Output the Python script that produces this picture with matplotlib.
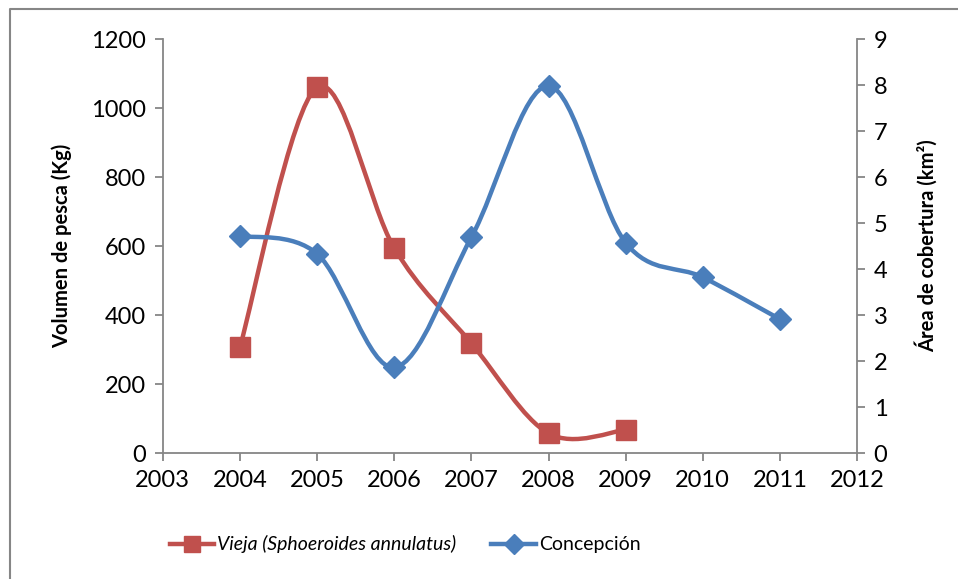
import matplotlib
matplotlib.use("Agg")
import matplotlib.pyplot as plt
from matplotlib.path import Path
from matplotlib.patches import PathPatch
from matplotlib.lines import Line2D

# data
years_vieja = [2004, 2005, 2006, 2007, 2008, 2009]
vieja_kg = [308, 1060, 594, 318, 57, 67]

years_conc = [2004, 2005, 2006, 2007, 2008, 2009, 2010, 2011]
conc_km2 = [4.72, 4.33, 1.86, 4.69, 7.98, 4.57, 3.82, 2.91]

x_ticks = list(range(2003, 2013))
left_ticks = [0, 200, 400, 600, 800, 1000, 1200]
right_ticks = list(range(0, 10))

red = "#C0504D"
blue = "#4A7EBB"
grey = "#868686"

plt.rcParams["font.family"] = ["Lato", "DejaVu Sans"]


def smooth_path(xs, ys):
    # Excel style smoothed line: Catmull-Rom turned into cubic Bezier pieces
    pts = list(zip(xs, ys))
    verts = [pts[0]]
    codes = [Path.MOVETO]
    n = len(pts)
    for i in range(n - 1):
        p0 = pts[i - 1] if i > 0 else pts[i]
        p1 = pts[i]
        p2 = pts[i + 1]
        p3 = pts[i + 2] if i + 2 < n else pts[i + 1]
        c1 = (p1[0] + (p2[0] - p0[0]) / 6, p1[1] + (p2[1] - p0[1]) / 6)
        c2 = (p2[0] - (p3[0] - p1[0]) / 6, p2[1] - (p3[1] - p1[1]) / 6)
        verts += [c1, c2, p2]
        codes += [Path.CURVE4] * 3
    return Path(verts, codes)


fig = plt.figure(figsize=(9.58, 5.79), dpi=100)
ax = fig.add_axes([0.170, 0.2176, 0.7246, 0.715])
ax2 = ax.twinx()

ax.add_patch(PathPatch(smooth_path(years_vieja, vieja_kg), facecolor="none",
                       edgecolor=red, lw=3.2, zorder=3, capstyle="round"))
ax.plot(years_vieja, vieja_kg, linestyle="none", marker="s", markersize=14,
        color=red, zorder=4)

ax2.add_patch(PathPatch(smooth_path(years_conc, conc_km2), facecolor="none",
                        edgecolor=blue, lw=3.2, zorder=3, capstyle="round"))
ax2.plot(years_conc, conc_km2, linestyle="none", marker="D", markersize=11,
         color=blue, zorder=4)

ax.set_xlim(2003, 2012)
ax.set_ylim(0, 1200)
ax2.set_ylim(0, 9)
ax.set_xticks(x_ticks)
ax.set_yticks(left_ticks)
ax2.set_yticks(right_ticks)

for a in (ax, ax2):
    for s in a.spines.values():
        s.set_color(grey)
        s.set_linewidth(1.3)
    a.spines["top"].set_visible(False)
    a.tick_params(length=6, width=1.3, color=grey, labelsize=17, pad=6)
ax.spines["right"].set_visible(False)
ax2.spines["left"].set_visible(False)
ax2.spines["bottom"].set_visible(False)

ax.set_ylabel("Volumen de pesca (Kg)", fontsize=14.5, fontweight="bold", labelpad=14)
ax2.set_ylabel("Área de cobertura (km²)", fontsize=14.5, fontweight="bold", labelpad=20)

handles = [
    Line2D([], [], color=red, lw=3.2, marker="s", markersize=12),
    Line2D([], [], color=blue, lw=3.2, marker="D", markersize=10),
]
leg = fig.legend(handles, ["Vieja (Sphoeroides annulatus)", "Concepción"],
                 loc="center", bbox_to_anchor=(0.423, 0.06), ncol=2, frameon=False,
                 fontsize=14, handlelength=2.3, handletextpad=0.15,
                 columnspacing=1.8)
leg.get_texts()[0].set_fontstyle("italic")

# only the left and top edges of the chart frame are inside the picture
fig.add_artist(Line2D([10 / 958, 10 / 958, 1], [0, 1 - 9 / 579, 1 - 9 / 579],
                      transform=fig.transFigure, color=grey, lw=1.5))

fig.savefig("out.png", dpi=100)
